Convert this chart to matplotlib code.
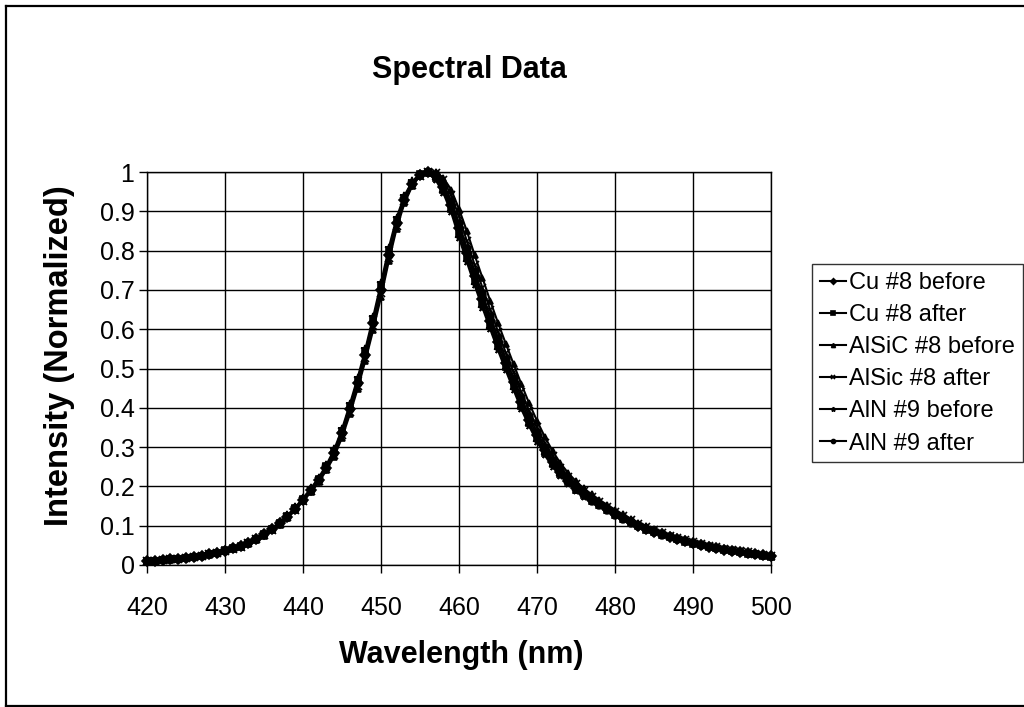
import matplotlib
matplotlib.use("Agg")
import matplotlib.pyplot as plt
from matplotlib.lines import Line2D

plt.rcParams['font.family'] = ['Liberation Sans', 'DejaVu Sans']

# Wavelength grid (nm)
wavelength = list(range(420, 501))

# Normalized intensity at 1 nm steps
cu8_before = [
    .010, .011, .012, .014, .016, .018, .021, .024, .027, .031,
    .036, .042, .048, .056, .066, .078, .091, .106, .123, .143,
    .166, .190, .216, .248, .285, .335, .396, .462, .535, .615,
    .700, .790, .870, .930, .970, .993, 1.000, .990, .962, .917,
    .857, .795, .735, .678, .622, .567, .515, .465, .415, .370,
    .330, .293, .262, .236, .215, .196, .180, .166, .154, .142,
    .130, .119, .109, .100, .092, .085, .078, .072, .066, .060,
    .055, .051, .047, .043, .039, .036, .033, .030, .027, .025,
    .022,
]
cu8_after = [
    .010, .011, .012, .014, .016, .018, .021, .024, .027, .031,
    .037, .043, .049, .057, .067, .079, .092, .108, .125, .145,
    .168, .192, .219, .251, .289, .341, .402, .469, .543, .623,
    .709, .798, .877, .935, .973, .994, 1.000, .986, .955, .907,
    .845, .783, .723, .667, .611, .556, .505, .455, .405, .361,
    .322, .286, .256, .231, .211, .192, .177, .163, .152, .140,
    .128, .117, .107, .098, .090, .084, .077, .071, .065, .059,
    .054, .050, .046, .042, .038, .035, .032, .029, .027, .024,
    .021,
]
alsic8_before = [
    .009, .010, .012, .013, .015, .017, .020, .023, .026, .030,
    .035, .040, .046, .054, .064, .075, .088, .103, .119, .139,
    .162, .185, .210, .241, .276, .324, .383, .448, .520, .598,
    .682, .773, .856, .920, .964, .990, .998, 1.000, .985, .955,
    .906, .850, .789, .731, .672, .616, .563, .511, .460, .411,
    .367, .326, .290, .259, .234, .213, .195, .180, .166, .153,
    .141, .129, .118, .108, .099, .091, .084, .077, .071, .065,
    .059, .055, .050, .046, .042, .039, .036, .033, .030, .027,
    .024,
]
alsic8_after = [
    .010, .011, .012, .014, .016, .018, .021, .023, .027, .031,
    .035, .041, .047, .055, .065, .077, .090, .104, .121, .141,
    .164, .188, .213, .245, .281, .330, .390, .455, .527, .607,
    .691, .782, .863, .925, .967, .991, 1.000, .998, .979, .941,
    .887, .825, .764, .706, .650, .594, .540, .490, .439, .392,
    .350, .310, .277, .248, .225, .205, .188, .173, .160, .148,
    .136, .125, .114, .105, .096, .089, .082, .075, .069, .063,
    .058, .053, .049, .045, .041, .038, .035, .032, .029, .026,
    .023,
]
aln9_before = [
    .010, .011, .013, .014, .016, .019, .021, .024, .028, .032,
    .037, .043, .050, .058, .068, .080, .094, .109, .127, .147,
    .170, .195, .222, .255, .294, .346, .409, .476, .550, .632,
    .718, .807, .884, .940, .976, .996, .998, .980, .946, .897,
    .833, .771, .712, .655, .600, .546, .495, .445, .396, .353,
    .314, .279, .250, .226, .207, .189, .174, .161, .149, .137,
    .125, .115, .105, .096, .089, .082, .075, .070, .064, .058,
    .053, .049, .045, .041, .037, .034, .032, .029, .026, .024,
    .021,
]
aln9_after = [
    .010, .011, .012, .014, .016, .018, .021, .024, .027, .031,
    .036, .042, .048, .056, .066, .078, .091, .106, .123, .143,
    .166, .190, .216, .248, .285, .335, .396, .462, .535, .615,
    .700, .790, .870, .930, .970, .993, 1.000, .994, .969, .927,
    .869, .807, .747, .689, .633, .578, .525, .475, .425, .379,
    .338, .300, .268, .241, .219, .200, .183, .169, .156, .144,
    .132, .121, .111, .102, .094, .086, .079, .073, .067, .061,
    .056, .052, .048, .044, .040, .037, .034, .031, .028, .025,
    .022,
]

series = [cu8_before, cu8_after, alsic8_before, alsic8_after, aln9_before, aln9_after]
series_names = ['Cu #8 before', 'Cu #8 after', 'AlSiC #8 before',
                'AlSic #8 after', 'AlN #9 before', 'AlN #9 after']
markers = ['D', 's', '^', 'x', '*', 'o']

x_ticks = list(range(420, 501, 10))
y_ticks = [0, .1, .2, .3, .4, .5, .6, .7, .8, .9, 1]
y_tick_labels = ['0', '0.1', '0.2', '0.3', '0.4', '0.5', '0.6', '0.7', '0.8', '0.9', '1']


fig = plt.figure(figsize=(10.24, 7.07), dpi=100)
W, H = 1024, 707
ax = fig.add_axes([147 / W, 1 - 565 / H, (771 - 147) / W, (565 - 172) / H])

for values, name, mk in zip(series, series_names, markers):
    ax.plot(wavelength, values, color='black', linewidth=1.5, marker=mk,
            markersize=5.5 if mk in ('x', '*') else 4.8, markeredgewidth=1.2,
            label=name, clip_on=False)

ax.set_xlim(420, 500)
ax.set_ylim(0, 1)
ax.set_xticks(x_ticks)
ax.set_yticks(y_ticks)
ax.set_yticklabels(y_tick_labels)
ax.grid(True, color='black', linewidth=1.0)
ax.set_axisbelow(True)
ax.tick_params(axis='both', direction='out', length=6, width=1.0, labelsize=18,
               colors='black')
ax.tick_params(axis='x', pad=16)
ax.tick_params(axis='y', pad=3)
for side in ax.spines.values():
    side.set_color('black')
    side.set_linewidth(1.0)

ax.set_xlabel('Wavelength (nm)', fontsize=22, fontweight='bold', va='center')
ax.set_ylabel('Intensity (Normalized)', fontsize=23.5, fontweight='bold', va='center')
ax.xaxis.set_label_coords((461 - 147) / 624, (565 - 655) / 393)
ax.yaxis.set_label_coords((60 - 147) / 624, (565 - 356) / 393)
fig.text(469 / W, 1 - 70 / H, 'Spectral Data', fontsize=22, fontweight='bold',
         ha='center', va='center')

leg = ax.legend(loc='upper left', bbox_to_anchor=(812 / W, 1 - 264 / H),
                bbox_transform=fig.transFigure, fontsize=17, frameon=True,
                fancybox=False, edgecolor='black', handlelength=1.1,
                handletextpad=0.15, labelspacing=0.43, borderpad=0.33,
                borderaxespad=0, markerscale=0.6)
leg.get_frame().set_linewidth(1.0)

# Chart area border (right edge falls outside the image)
for xs, ys in [([6, 6], [6, 706]), ([6, 1030], [6, 6]), ([6, 1030], [706, 706])]:
    fig.add_artist(Line2D([v / W for v in xs], [1 - v / H for v in ys],
                          color='black', linewidth=1.6, transform=fig.transFigure))

fig.savefig('out.png', dpi=100)
